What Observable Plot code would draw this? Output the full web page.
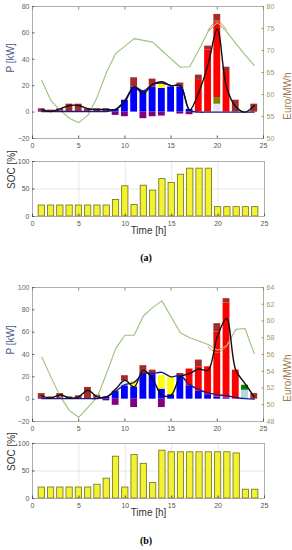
<!DOCTYPE html>
<html><head><meta charset="utf-8">
<script src="https://cdn.jsdelivr.net/npm/d3@7"></script>
<script src="https://cdn.jsdelivr.net/npm/@observablehq/plot@0.6"></script>
<style>
body{margin:0;background:#fff;}
#root{position:relative;width:292px;height:550px;overflow:hidden;background:#fff;}
.p{position:absolute;left:0;}
.cap{position:absolute;left:0;width:292px;text-align:center;font-family:"Liberation Serif","DejaVu Serif",serif;font-weight:bold;font-size:10px;line-height:12px;}
</style></head><body><div id="root"></div>
<script>
// ---------- shared ----------
const HOURS = d3.range(1, 25);
const X_TICKS = [0, 5, 10, 15, 20, 25];
const SERIES_NAMES = ["blue", "lavender", "lightblue", "olive", "green", "red", "yellow", "brown", "purple"];
const SERIES_COLORS = ["#1616dc", "#b4a6f0", "#9cc0f0", "#4f6a2a", "#3a8a3a", "#cc2008", "#eeee30", "#6a4a18", "#8040d8"];

// ---------- panel (a) ----------
const aBlue     = [0.5,0.5,0.5,0.5,0.5,0.5,0.5,0.5,2,9,19,16,19,18,19,19,2,0,0,0,0,0,0,0];
const aLavender = [0,0,0,0,0,0,0,0,0,0,0,0,0,0,0,0,0,0,0,6,0,0,0,0];
const aOlive    = [0,0,0,0,0,0,0,0,0,0,0,0,0,0,0,0,0,0,0,5,0,0,0,0];
const aRed      = [0,0,0,0,0,0,0,0,0,0,0,0,0,0,0,0,0,24,47,58,30,0,0,0];
const aYellow   = [0,0,0,0,0,0,0,0,0,0,0,0,0,4,0,0,0,0,0,0,0,0,0,0];
const aBrown    = [2,1,2,5.5,5.5,2,2,2,0,0,7,0,6,0,0,3,0,4,3,5,4,9,0,6];
const aPurple   = [0,0,0,0,0,0,0,0,-2.5,-3.5,0,-5,-3.5,-3,0,-1.5,-2,0,0,0,0,0,0,0];
const aBlack    = [2,0.5,2.5,5,5,2.5,2,2,2,8,19,14,21,23,20,20,1.5,15,36,63,19,4,0,5];
const aNavy     = [0.5,0.5,0.5,0.5,0.5,0.5,0.5,0.5,2,9,19,16,21,22,20,20,1.5,0,0,0,0,0,0,0];
const aPrice    = [63.2,58.6,56.4,54.6,53.6,55.3,59.4,65,69.3,71,72.7,72.3,71.9,70,68.1,66.2,66.3,70.1,74.3,76.4,74.3,71.6,69,66.6];
const aPrice2Hours = [19, 20, 21];
const aPrice2   = [74.6, 76.7, 74.7];
const aSOC      = [20,20,20,20,20,20,20,20,30,55,21,56,47,68,61,76,87,87,87,17,17,17,17,17];
const aYTicks = [-20, 0, 20, 40, 60, 80];
const aPriceTicks = [50, 55, 60, 65, 70, 75, 80];

// ---------- panel (b) ----------
const bBlue      = [0.5,0.5,0.5,0.5,0.5,0.5,0.5,2,7,12,11,23,22,9,4,21,12,7,4,2,1,0,0,0];
const bLavender  = [0,0,0,0,0,0,0,0,0,4,0,0,0,0,0,0,0,0,0,0,0,0,0,0];
const bLightblue = [0,0,0,0,0,0,0,0,0,0,0,0,0,0,0,0,0,0,0,0,0,0,8,0];
const bGreen     = [0,0,0,0,0,0,0,0,0,0,0,0,0,0,0,0,0,0,0,0,0,0,4.5,0];
const bRed       = [0,0,0,0,0,0,0,0,0,0,0,0,0,0,0,0,15,22,25,58,85,26,0,0];
const bYellow    = [0,0,0,0,0,0,0,0,0,0,5,0,0,12,16,0,0,0,0,0,0,0,0,0];
const bBrown     = [4.5,1.5,4.5,1.5,2.5,10,3,0,0,5,0,7,4,0,0,2,0,6,0,7.6,4,0,0,5];
const bPurple    = [0,0,0,0,0,0,0,-1.5,-5.5,0,-7.5,0,0,-7.5,0,0,0,0,0,0,0,0,0,0];
const bBlack     = [3,1,4,1,2,8,2,2,9,17,11,26,18,3.6,3.6,20,23,27,26,56,72,26,14,2];
const bNavy      = [0.5,0.5,0.5,0.5,0.5,0.5,0.5,2,7,13,15,23,23,24,20,21,13,8.6,5.6,4,3,1.5,0.5,0];
const bPrice     = [55.7,53.3,51,49.3,48.5,49.7,50.9,53.7,56.7,58.3,58.3,60.6,61.6,62.4,60.5,58.6,58.0,57.6,57.2,56.5,57.0,59.0,59.1,56.1];
const bPrice2Hours = [19, 20, 21];
const bPrice2    = [56.9, 56.2, 56.9];
const bSOC       = [20,20,20,20,20,20,25,36,76,20,79,63,28,87,84,84,84,84,84,84,84,82,16,16];
const bYTicks = [-20, 0, 20, 40, 60, 80, 100];
const bPriceTicks = [48, 50, 52, 54, 56, 58, 60, 62, 64];

// ---------- helpers ----------
const FONT = "'Liberation Sans', Arial, sans-serif";
function stackRows(seriesValues) {
  const rows = [];
  SERIES_NAMES.forEach((name) => {
    const vals = seriesValues[name];
    if (!vals) return;
    vals.forEach((v, i) => { if (v !== 0) rows.push({hour: HOURS[i], value: v, series: name}); });
  });
  return rows;
}

function topPlot(o) {
  const yDomain = [o.yTicks[0], o.yTicks[o.yTicks.length - 1]];
  const pDomain = [o.priceTicks[0], o.priceTicks[o.priceTicks.length - 1]];
  const toP = d3.scaleLinear(pDomain, yDomain);
  const rows = stackRows(o.series);
  return Plot.plot({
    width: 292, height: o.height,
    marginTop: 6, marginBottom: 14, marginLeft: 32, marginRight: 29,
    style: {fontFamily: FONT, fontSize: "7px", background: "transparent", overflow: "visible"},
    x: {domain: [0, 25]},
    y: {domain: yDomain},
    color: {domain: SERIES_NAMES, range: SERIES_COLORS},
    marks: [
      Plot.rectY(rows, Plot.stackY({x1: d => d.hour - 0.37, x2: d => d.hour + 0.37, y: "value", fill: "series", order: null})),
      Plot.line(o.price2Hours, {x: d => d, y: (d, i) => toP(o.price2[i]), stroke: "#f06a55", strokeWidth: 0.9, curve: "catmull-rom"}),
      Plot.line(HOURS, {x: d => d, y: (d, i) => toP(o.price[i]), stroke: "#9cc278", strokeWidth: 1.1}),
      Plot.line(HOURS, {x: d => d, y: (d, i) => o.navy[i], stroke: "#1a1a8c", strokeWidth: 1.4, curve: "catmull-rom"}),
      Plot.line(HOURS, {x: d => d, y: (d, i) => o.black[i], stroke: "#111", strokeWidth: 1.4, curve: "catmull-rom"}),
      Plot.frame({stroke: "#9a9a9a", strokeWidth: 0.8}),
      Plot.axisX({ticks: X_TICKS, tickSize: -2.5, tickPadding: 7, color: "#555", label: null}),
      Plot.axisX({anchor: "top", ticks: X_TICKS, tickSize: -2.5, tickFormat: () => "", color: "#888", label: null}),
      Plot.axisY({ticks: o.yTicks, tickSize: -2.5, tickPadding: 5.5, color: "#5e6478", label: null}),
      Plot.axisY({anchor: "right", ticks: o.priceTicks.map(toP), tickFormat: d => String(Math.round(toP.invert(d))), tickSize: -2.5, tickPadding: 5.5, color: "#a8946a", label: null}),
      Plot.text(["P [kW]"], {text: d => d, frameAnchor: "left", rotate: -90, dx: -22, fontSize: 10, fill: "#4a5a8c"}),
      Plot.text(["Euro/MWh"], {text: d => d, frameAnchor: "right", rotate: -90, dx: 24, fontSize: 10, fill: "#a27a4a"})
    ]
  });
}

function socPlot(soc) {
  const socTicks = [0, 50, 100];
  return Plot.plot({
    width: 292, height: 85,
    marginTop: 6, marginBottom: 24, marginLeft: 32, marginRight: 28,
    style: {fontFamily: FONT, fontSize: "7px", background: "transparent", overflow: "visible"},
    x: {domain: [0, 25]},
    y: {domain: [0, 100]},
    marks: [
      Plot.gridX({ticks: [5, 10, 15, 20], stroke: "#d8d8d8", strokeOpacity: 1, strokeWidth: 0.6}),
      Plot.gridY({ticks: [50], stroke: "#d8d8d8", strokeOpacity: 1, strokeWidth: 0.6}),
      Plot.rectY(HOURS, {x1: d => d - 0.34, x2: d => d + 0.34, y: (d, i) => soc[i], fill: "#f2f232", stroke: "#6e6e1c", strokeWidth: 0.8}),
      Plot.frame({stroke: "#9a9a9a", strokeWidth: 0.8}),
      Plot.axisX({ticks: X_TICKS, tickSize: -2.5, tickPadding: 7, color: "#555", label: null}),
      Plot.axisY({ticks: socTicks, tickSize: -2.5, tickPadding: 5.5, color: "#555", label: null}),
      Plot.text(["SOC [%]"], {text: d => d, frameAnchor: "left", rotate: -90, dx: -21, fontSize: 10, fill: "#333"}),
      Plot.text(["Time [h]"], {text: d => d, frameAnchor: "bottom", dy: 17, fontSize: 10, fill: "#333"})
    ]
  });
}

const root = document.getElementById("root");
function place(node, top) { node.classList.add("p"); node.style.top = top + "px"; root.appendChild(node); }
function caption(txt, top) { const d = document.createElement("div"); d.className = "cap"; d.style.top = top + "px"; d.textContent = txt; root.appendChild(d); }

place(topPlot({
  height: 152, yTicks: aYTicks, priceTicks: aPriceTicks,
  series: {blue: aBlue, lavender: aLavender, olive: aOlive, red: aRed, yellow: aYellow, brown: aBrown, purple: aPurple},
  black: aBlack, navy: aNavy, price: aPrice, price2: aPrice2, price2Hours: aPrice2Hours
}), 0);
place(socPlot(aSOC), 155);
caption("(a)", 252);

place(topPlot({
  height: 154, yTicks: bYTicks, priceTicks: bPriceTicks,
  series: {blue: bBlue, lavender: bLavender, lightblue: bLightblue, green: bGreen, red: bRed, yellow: bYellow, brown: bBrown, purple: bPurple},
  black: bBlack, navy: bNavy, price: bPrice, price2: bPrice2, price2Hours: bPrice2Hours
}), 281);
place(socPlot(bSOC), 437);
caption("(b)", 535);
</script>
</body></html>
